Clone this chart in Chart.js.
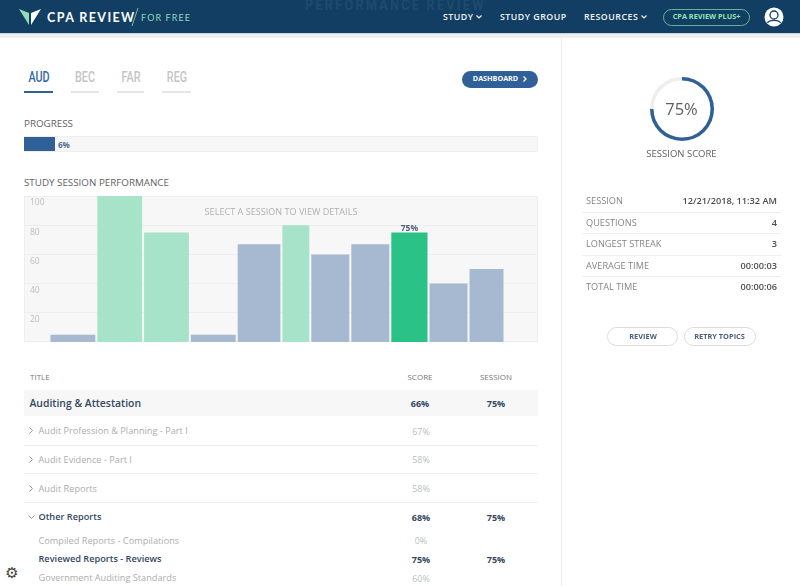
<!DOCTYPE html>
<html lang="en">
  <head>
    <meta charset="UTF-8" />
    <title>CPA Review - Performance Review</title>
    <script src="https://cdn.jsdelivr.net/npm/chart.js@4/dist/chart.umd.min.js"></script>
    <style>
      html, body { margin: 0; padding: 0; background: #fff; overflow: hidden; }
      body { width: 800px; height: 586px; position: relative; font-family: "Open Sans", sans-serif; color: #666; }
      .t { position: absolute; white-space: nowrap; line-height: 1; transform: translateY(-50%); }
      .c { transform: translate(-50%, -50%); }
      .r { transform: translate(-100%, -50%); }
      .line { position: absolute; height: 1px; background: #eee; }
      .header { position: absolute; left: 0; top: 0; width: 800px; height: 33px; background: #123e64; overflow: hidden; }
      .strip { position: absolute; left: 0; top: 33px; width: 800px; height: 5px; background: #eeeeee; border-top: 1px solid #c9d2da; box-sizing: border-box; }
      .nav { color: #f2f5f7; font-size: 8.8px; font-weight: 600; letter-spacing: 0.5px; }
      .tab { font-family: Roboto, sans-serif; font-weight: 500; font-size: 15px; color: #c4c4c4; transform: translate(-50%, -50%) scaleX(0.72); }
      .under { position: absolute; top: 91px; height: 2px; background: #e6e6e6; }
      .heading { font-size: 9.8px; font-weight: 400; color: #5f5f5f; }
      .pill { position: absolute; box-sizing: border-box; border-radius: 10px; }
      #panel { position: absolute; left: 24px; top: 196px; width: 514px; height: 146px; background: #f7f7f7; outline: 1px solid #eeeeee; outline-offset: -1px; }
      #panel canvas { position: absolute; left: 0; top: 0; }
      #gauge { position: absolute; left: 641.5px; top: 68.7px; }
      .chev { position: absolute; overflow: visible; }
    </style>
  </head>
  <body>
    <div class="header">
      <svg style="position:absolute;left:18px;top:8px" width="24" height="18" viewBox="0 0 24 18">
        <polygon points="1,1 11,5 11,17" fill="#8fe0b8" />
        <polygon points="23,1 13,5 13,17" fill="#ffffff" />
      </svg>
      <div class="t" style="left:47px;top:17px;font:700 12.5px Lato,sans-serif;letter-spacing:1.4px;color:#fff">CPA REVIEW</div>
      <svg style="position:absolute;left:131px;top:7px" width="8" height="20"><line x1="7" y1="1" x2="1" y2="19" stroke="#8fd9b9" stroke-width="0.8" /></svg>
      <div class="t" style="left:141px;top:17px;font:400 9px Lato,sans-serif;letter-spacing:1.1px;color:#8fd9b9">FOR FREE</div>
      <div class="t" style="left:305px;top:5px;font:700 15px Roboto,sans-serif;letter-spacing:2.6px;color:#1e4a70;transform:translateY(-50%) scaleX(0.85);transform-origin:left center">PERFORMANCE REVIEW</div>
      <div class="t nav" style="left:443px;top:17px">STUDY</div>
      <svg class="chev" style="left:476px;top:15px" width="6" height="4"><polyline points="0.5,0.5 3,3 5.5,0.5" fill="none" stroke="#f2f5f7" stroke-width="1.2" /></svg>
      <div class="t nav" style="left:500px;top:17px">STUDY GROUP</div>
      <div class="t nav" style="left:584px;top:17px">RESOURCES</div>
      <svg class="chev" style="left:641px;top:15px" width="6" height="4"><polyline points="0.5,0.5 3,3 5.5,0.5" fill="none" stroke="#f2f5f7" stroke-width="1.2" /></svg>
      <div class="pill" style="left:663px;top:8.5px;width:87px;height:17px;border:1px solid #64b596"></div>
      <div class="t c" style="left:706.5px;top:17px;font-size:7.3px;font-weight:700;color:#8fe6b5">CPA REVIEW PLUS+</div>
      <svg style="position:absolute;left:764px;top:7px" width="20" height="20" viewBox="0 0 20 20">
        <circle cx="10" cy="10" r="9.5" fill="#fff" />
        <circle cx="10" cy="8" r="4" fill="none" stroke="#123e64" stroke-width="1.3" />
        <path d="M3.5 16 C5 12.5 15 12.5 16.5 16" fill="none" stroke="#123e64" stroke-width="1.3" />
      </svg>
    </div>
    <div class="strip"></div>
    <div style="position:absolute;left:561px;top:38px;width:1px;height:548px;background:#eeeeee"></div>

    <div class="t tab" style="left:38.8px;top:77px;color:#2f6ba8">AUD</div>
    <div class="t tab" style="left:85.3px;top:77px">BEC</div>
    <div class="t tab" style="left:131px;top:77px">FAR</div>
    <div class="t tab" style="left:176.5px;top:77px">REG</div>
    <div class="under" style="left:24px;width:29px;background:#2f6097"></div>
    <div class="under" style="left:71px;width:28px"></div>
    <div class="under" style="left:117px;width:27px"></div>
    <div class="under" style="left:162px;width:29px"></div>

    <div class="pill" style="left:462px;top:70.5px;width:76px;height:17px;background:#2f6097"></div>
    <div class="t c" style="left:495.5px;top:79px;font-size:7.2px;font-weight:700;color:#fff">DASHBOARD</div>
    <svg class="chev" style="left:523px;top:76px" width="4" height="6"><polyline points="0.5,0.5 3,3 0.5,5.5" fill="none" stroke="#fff" stroke-width="1.3" /></svg>

    <div class="t heading" style="left:24px;top:123.5px">PROGRESS</div>
    <div style="position:absolute;left:24px;top:136px;width:514px;height:16px;background:#f6f6f6;box-sizing:border-box;border:1px solid #eeeeee"></div>
    <div id="progressFill" style="position:absolute;left:24px;top:137px;height:14px;background:#2f6097"></div>
    <div id="progressLabel" class="t" style="left:58px;top:144.5px;font-size:8px;font-weight:700;color:#4f6a92"></div>

    <div class="t heading" style="left:24px;top:183px">STUDY SESSION PERFORMANCE</div>
    <div id="panel"><canvas id="sessionChart" width="514" height="146"></canvas></div>
    <div class="t c" style="left:281px;top:212px;font-size:9.1px;font-weight:400;color:#b0b0b0">SELECT A SESSION TO VIEW DETAILS</div>

    <canvas id="gauge" width="80" height="80"></canvas>
    <div class="t c" id="gaugeLabel" style="left:681.5px;top:109px;font-size:16.5px;color:#5f5f5f"></div>
    <div class="t c" style="left:681.5px;top:154px;font-size:9.5px;font-weight:400;color:#5f5f5f">SESSION SCORE</div>

    <div id="rows"></div>

    <div class="pill" style="left:607px;top:327px;width:71px;height:19px;border:1px solid #dcdcdc"></div>
    <div class="t c" style="left:643px;top:336.5px;font-size:7.4px;font-weight:700;color:#4a5f7d">REVIEW</div>
    <div class="pill" style="left:683.5px;top:327px;width:72px;height:19px;border:1px solid #dcdcdc"></div>
    <div class="t c" style="left:719.5px;top:336.5px;font-size:7.4px;font-weight:700;color:#4a5f7d">RETRY TOPICS</div>

    <div class="t c" style="left:12px;top:573px;font:15px 'DejaVu Sans',sans-serif;color:#3d3d3d">⚙</div>

    <script>
      // bar chart data
      const sessionWidths = [46.8, 46.8, 46.8, 46.8, 44.7, 28.9, 40, 40, 38.2, 40, 36]
      const sessionScores = [5, 100, 75, 5, 67, 80, 60, 67, 75, 40, 50]
      const sessionPassed = [0, 1, 1, 0, 0, 1, 0, 0, 2, 0, 0]
      const selectedLabel = '75%'
      const yTicks = [20, 40, 60, 80, 100]

      const progress = 6
      const sessionScore = 75

      // table data
      const tableTitles = ['Audit Profession & Planning - Part I', 'Audit Evidence - Part I', 'Audit Reports']
      const tableScores = ['67%', '58%', '58%']
      const subTitles = ['Compiled Reports - Compilations', 'Reviewed Reports - Reviews', 'Government Auditing Standards']
      const subScores = ['0%', '75%', '60%']
      const sessionKeys = ['SESSION', 'QUESTIONS', 'LONGEST STREAK', 'AVERAGE TIME', 'TOTAL TIME']
      const sessionValues = ['12/21/2018, 11:32 AM', '4', '3', '00:00:03', '00:00:06']

      const barColors = ['#a7b9d0', '#a6e3c9', '#2bc287']
      const navy = '#33475f'
      const rows = document.getElementById('rows')

      const addText = (text, x, y, cls, style) => {
        const el = document.createElement('div')
        el.className = 't ' + cls
        el.textContent = text
        el.style.cssText = `left:${x}px;top:${y}px;${style}`
        rows.appendChild(el)
      }
      const addLine = (x, y, w) => {
        const el = document.createElement('div')
        el.className = 'line'
        el.style.cssText = `left:${x}px;top:${y}px;width:${w}px`
        rows.appendChild(el)
      }
      const addChevron = (x, y, points) => {
        const ns = 'http://www.w3.org/2000/svg'
        const svg = document.createElementNS(ns, 'svg')
        svg.setAttribute('class', 'chev')
        svg.setAttribute('width', 7)
        svg.setAttribute('height', 7)
        svg.style.left = x + 'px'
        svg.style.top = y + 'px'
        const line = document.createElementNS(ns, 'polyline')
        line.setAttribute('points', points)
        line.setAttribute('fill', 'none')
        line.setAttribute('stroke', '#999')
        svg.appendChild(line)
        rows.appendChild(svg)
      }

      const band = document.createElement('div')
      band.style.cssText = 'position:absolute;left:24px;top:390px;width:514px;height:26px;background:#f7f7f7'
      rows.appendChild(band)

      addText('TITLE', 30, 377, '', 'font-size:8px;color:#777')
      addText('SCORE', 420, 377, 'c', 'font-size:8px;color:#777')
      addText('SESSION', 496, 377, 'c', 'font-size:8px;color:#777')
      addText('Auditing & Attestation', 29.5, 402.5, '', `font-size:10.4px;font-weight:600;color:${navy}`)
      addText('66%', 420, 402.5, 'c', `font-size:9px;font-weight:700;color:${navy}`)
      addText('75%', 496, 402.5, 'c', `font-size:9px;font-weight:700;color:${navy}`)

      tableTitles.forEach((title, i) => {
        const y = 430.5 + i * 28.8
        addChevron(29, y - 3.5, '0.5,0.5 3.5,3.5 0.5,6.5')
        addText(title, 38.5, y + 0.5, '', 'font-size:9.2px;color:#adadad')
        addText(tableScores[i], 421, y, 'c', 'font-size:9px;color:#bdbdbd')
        addLine(24, y + 14, 514)
      })

      addChevron(28, 514.5, '0.5,0.5 3.5,3.5 6.5,0.5')
      addText('Other Reports', 38.5, 517, '', `font-size:9.2px;font-weight:600;color:${navy}`)
      addText('68%', 421, 516.5, 'c', `font-size:9px;font-weight:700;color:${navy}`)
      addText('75%', 496, 516.5, 'c', `font-size:9px;font-weight:700;color:${navy}`)

      subTitles.forEach((title, i) => {
        const y = 540 + i * 18.8
        const on = i === 1
        addText(title, 38.5, y + 0.5, '', on ? `font-size:9.2px;font-weight:600;color:${navy}` : 'font-size:9.2px;color:#adadad')
        addText(subScores[i], 421, y, 'c', on ? `font-size:9px;font-weight:700;color:${navy}` : 'font-size:9px;color:#bdbdbd')
        if (on) addText('75%', 496, y, 'c', `font-size:9px;font-weight:700;color:${navy}`)
      })

      sessionKeys.forEach((key, i) => {
        const y = 201 + i * 21.6
        addText(key, 586, y, '', 'font-size:9.2px;color:#858585')
        addText(sessionValues[i], 777, y, 'r', 'font-size:9.2px;font-weight:600;color:#4d4d4d')
        if (i < sessionKeys.length - 1) addLine(582, y + 10.5, 199)
      })

      document.getElementById('progressFill').style.width = progress / 100 * 514 + 'px'
      document.getElementById('progressLabel').textContent = progress + '%'
      document.getElementById('gaugeLabel').textContent = sessionScore + '%'

      // x position of each bar is the running total of the slot widths
      let running = 0
      const sessionPoints = sessionScores.map((score, i) => {
        const x = running + sessionWidths[i] / 2
        running += sessionWidths[i]
        return { x: x, y: score }
      })

      // chart.js has no per bar width, so set it here from the x scale
      const variableWidth = {
        id: 'variableWidth',
        afterDatasetsUpdate(chart) {
          const xScale = chart.scales.x
          chart.getDatasetMeta(0).data.forEach((bar, i) => {
            const unit = xScale.getPixelForValue(sessionWidths[i]) - xScale.getPixelForValue(0)
            bar.width = unit - 2
          })
        },
        afterDatasetsDraw(chart) {
          const { ctx } = chart
          const i = sessionPassed.indexOf(2)
          const bar = chart.getDatasetMeta(0).data[i]
          ctx.save()
          ctx.font = '700 8.5px "Open Sans"'
          ctx.fillStyle = '#4f5f78'
          ctx.textAlign = 'center'
          ctx.textBaseline = 'bottom'
          ctx.fillText(selectedLabel, bar.x, bar.y)
          ctx.restore()
        },
      }

      new Chart(document.getElementById('sessionChart'), {
        type: 'bar',
        data: {
          datasets: [
            {
              data: sessionPoints,
              backgroundColor: sessionPassed.map((k) => barColors[k]),
              borderWidth: 0,
            },
          ],
        },
        plugins: [variableWidth],
        options: {
          responsive: false,
          animation: false,
          layout: { padding: 0 },
          plugins: { legend: { display: false }, tooltip: { enabled: false } },
          scales: {
            x: { type: 'linear', min: -25.5, max: 488.5, offset: false, display: false },
            y: {
              min: 0,
              max: 100,
              border: { display: false },
              grid: { color: '#eeeeee', drawTicks: false },
              afterBuildTicks: (axis) => {
                axis.ticks = yTicks.map((v) => ({ value: v }))
              },
              // labels sit inside the plot, so the axis must take no room
              afterFit: (axis) => {
                axis.width = 0
                axis.paddingTop = 0
                axis.paddingBottom = 0
              },
              ticks: {
                mirror: true,
                padding: 6,
                labelOffset: 7,
                color: '#bdbdbd',
                font: { family: 'Open Sans', size: 8.5 },
              },
            },
          },
        },
      })

      new Chart(document.getElementById('gauge'), {
        type: 'doughnut',
        data: {
          datasets: [
            {
              data: [sessionScore, 100 - sessionScore],
              backgroundColor: ['#2f6097', '#eeeeee'],
              borderWidth: 0,
            },
          ],
        },
        options: {
          responsive: false,
          animation: false,
          cutout: '89%',
          radius: 32,
          layout: { padding: 0 },
          plugins: { legend: { display: false }, tooltip: { enabled: false } },
        },
      })
    </script>
  </body>
</html>
